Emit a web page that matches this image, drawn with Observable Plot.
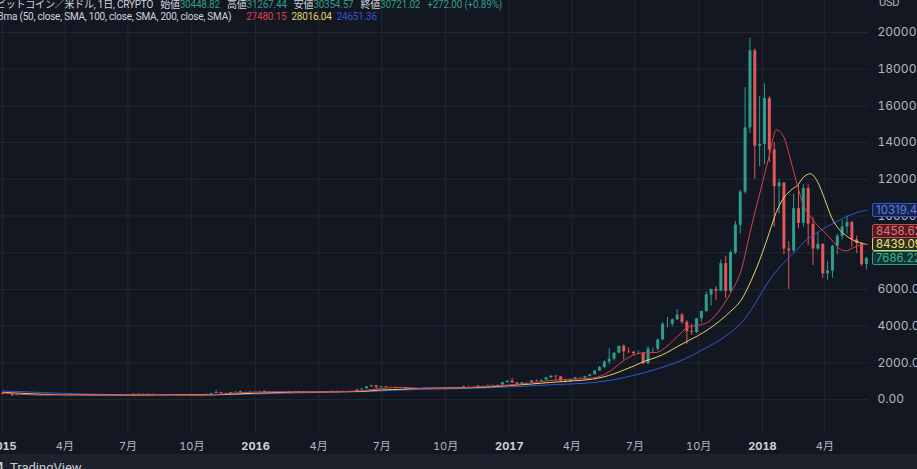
<!DOCTYPE html>
<html><head><meta charset="utf-8">
<script src="https://cdn.jsdelivr.net/npm/d3@7"></script>
<script src="https://cdn.jsdelivr.net/npm/@observablehq/plot@0.6"></script>
<style>
html,body{margin:0;padding:0;background:#131722;}
#wrap{position:relative;width:917px;height:469px;overflow:hidden;background:#131722;font-family:Inter,"Noto Sans CJK JP",sans-serif;}
#chart{position:absolute;left:0;top:0;}
.hd{position:absolute;white-space:nowrap;font-family:Roboto,"Noto Sans CJK JP",sans-serif;font-size:10px;line-height:12px;letter-spacing:-0.22px;color:#d1d4dc;}
.hd span{display:inline-block;}
.box{position:absolute;left:872px;width:60px;height:12px;border:1px solid;border-radius:2px;font-size:11.5px;line-height:12px;padding-left:3px;box-sizing:content-box;}
#foot{position:absolute;left:0;top:454px;width:917px;height:15px;background:#1d212c;}
</style></head><body><div id="wrap"><div id="chart"></div></div>
<script>
// ---- data (weekly candles) ----
const firstOpen = 320;
const closes = [
 274,270,208,255,226,228,258,237,260,276,284,260,252,256,236,224,225,240,241,234,237,225,225,233,244,251,269,294,276,293,281,262,258,226,229,239,230,231,233,240,247,268,285,327,380,332,324,378,390,433,436,423,430,
 448,382,404,376,373,400,438,434,410,414,411,416,419,423,431,450,446,458,454,443,527,583,690,750,660,700,660,665,655,655,587,570,581,574,606,608,610,602,612,617,640,657,700,703,702,740,735,766,778,790,920,998,
 905,830,920,920,1020,1000,1055,1175,1270,1230,1000,965,1080,1180,1170,1250,1345,1550,1740,2050,2200,2520,2900,2600,2580,2500,2520,1950,2750,2750,3250,4100,4100,4350,4600,4200,3700,3650,4400,4800,5700,6000,5900,7400,5900,8000,9500,11300,14800,19000,13800,13900,
 16400,13600,11600,11800,8200,8100,10400,9600,11500,9550,8200,8450,6850,7000,8350,8900,9400,9650,8700,8500,7350,7686.22
];
const highs = [
 320,300,270,310,275,245,265,260,262,300,300,290,270,262,262,238,237,240,247,245,242,240,231,237,254,254,273,300,298,297,297,285,271,262,235,242,244,235,240,241,248,272,287,335,500,390,338,380,420,465,465,465,440,
 460,452,425,405,390,400,443,444,438,418,418,420,420,424,432,452,468,462,460,458,535,590,700,780,760,710,700,680,680,660,660,600,585,585,610,630,612,612,616,620,642,660,720,740,725,750,750,780,780,792,935,1000,
 1150,910,925,925,1040,1070,1060,1200,1290,1300,1260,1050,1090,1210,1200,1260,1350,1570,1800,2100,2760,2560,2900,2980,2800,2600,2650,2550,2900,2800,3300,4200,4480,4380,4900,4700,4300,4100,4400,4800,5850,6000,6150,7600,7800,8100,9700,11400,17000,19700,19100,16500,
 17200,16500,14000,12000,11800,8600,11200,11700,11700,11700,9900,9100,8500,7500,8400,9000,9750,9990,9700,8900,8550,7750
];
const lows = [
 270,265,170,205,215,212,218,230,233,255,265,250,235,240,233,216,219,221,232,232,231,224,221,222,232,241,248,263,272,272,280,258,257,200,198,224,228,225,229,231,235,246,264,281,320,300,315,318,350,385,430,420,415,
 428,360,375,370,365,370,398,415,388,406,408,406,412,417,419,428,440,440,447,436,440,520,570,670,550,620,630,650,650,640,480,570,565,565,570,600,600,593,600,604,612,628,650,685,700,695,726,730,750,770,788,890,
 880,760,820,880,915,950,990,1050,1170,1000,950,900,950,1070,1140,1160,1240,1340,1540,1700,1900,2100,2500,2140,2500,2370,2480,1900,1900,2500,2650,3200,3900,3950,4300,4100,3000,3500,3600,4200,4750,5100,5400,5900,5500,5850,7900,9000,11200,14500,12000,12700,
 12800,12900,9400,10100,7900,6000,8000,9300,9400,8400,7300,8100,6600,6500,6600,7900,8700,9000,8300,7950,7250,7050
];

// moving averages
const smaDates = [
 "2015-01-01","2015-02-01","2015-03-01","2015-04-01","2015-05-01","2015-06-01","2015-07-01","2015-08-01","2015-09-01","2015-10-01","2015-11-01","2015-12-01",
 "2016-01-01","2016-02-01","2016-03-01","2016-04-01","2016-05-01","2016-06-01","2016-07-01","2016-08-01","2016-09-01","2016-10-01","2016-11-01","2016-12-01",
 "2017-01-01","2017-02-01","2017-03-01","2017-04-01","2017-05-01","2017-05-16","2017-06-01","2017-06-16","2017-07-01","2017-07-16","2017-08-01","2017-08-16","2017-09-01","2017-09-16","2017-10-01","2017-10-16","2017-11-01","2017-11-16","2017-12-01","2017-12-16",
 "2018-01-01","2018-01-11","2018-01-21","2018-02-01","2018-02-11","2018-02-21","2018-03-01","2018-03-11","2018-03-21","2018-04-01","2018-04-11","2018-04-21","2018-05-01","2018-05-11","2018-05-21","2018-06-01"
];
const sma50 = [
 360,275,237,262,240,236,240,275,255,236,262,350,
 405,420,405,413,428,470,610,660,590,608,650,718,
 790,900,1040,1110,1170,1330,1700,2150,2450,2550,2560,2900,3450,3950,4050,4250,4900,5800,7000,9400,
 11800,13300,14700,14300,13000,11600,10600,10000,9500,9100,8700,8250,8100,8250,8400,8458.62
];
const sma100 = [
 390,330,285,255,250,240,238,250,258,252,258,300,
 345,380,405,410,420,440,520,560,615,625,640,680,
 760,840,930,1010,1110,1220,1400,1620,1850,2100,2300,2550,2900,3200,3500,3850,4300,4800,5400,6500,
 8000,9100,10200,11000,11400,11700,12100,12300,11900,10900,9900,9300,8950,8700,8550,8439.09
];
const sma200 = [
 460,420,380,335,300,275,258,250,246,248,252,270,
 300,330,358,385,408,425,468,520,548,573,600,640,
 690,740,800,850,920,990,1080,1200,1330,1480,1650,1830,2050,2300,2600,2900,3250,3650,4150,4900,
 5900,6500,7000,7450,7850,8200,8550,8850,9100,9350,9550,9750,9950,10100,10230,10319.4
];

const yTicks = [0,2000,4000,6000,8000,10000,12000,14000,16000,18000,20000];
const yearTicks = ["2015-01-01","2016-01-01","2017-01-01","2018-01-01"];
const monthTicks = ["2015-04-01","2015-07-01","2015-10-01","2016-04-01","2016-07-01","2016-10-01","2017-04-01","2017-07-01","2017-10-01","2018-04-01"];

const header1 = "ビットコイン／米ドル, 1日, CRYPTO";
const ohlcLabels = ["始値","高値","安値","終値"];
const ohlcValues = ["30448.82","31267.44","30354.57","30721.02"];
const changeText = "+272.00 (+0.89%)";
const header2 = "3ma (50, close, SMA, 100, close, SMA, 200, close, SMA)";
const maHeaderValues = ["27480.15","28016.04","24651.36"];

// ---- colours ----
const UP = "#2b9e8c", DOWN = "#e2585a";
const C50 = "#d8414c", C100 = "#e4d468", C200 = "#3454cf";
const VAL = "#2f9c86";

// ---- build ----
const weeks = d3.utcThursday.range(new Date(Date.UTC(2015,0,1)), new Date(Date.UTC(2018,5,1)));
const candles = weeks.map((date,i) => {
  const open = i ? closes[i-1] : firstOpen, close = closes[i];
  return {date, open, close, high: Math.max(highs[i], open, close), low: Math.min(lows[i], open, close)};
});
const toSeries = arr => smaDates.map((d,i) => ({date: new Date(d), v: arr[i]}));
const col = d => d.close >= d.open ? UP : DOWN;
const toDate = s => new Date(s);

const plot = Plot.plot({
  width: 917, height: 454,
  marginTop: 0, marginBottom: 21, marginLeft: 0, marginRight: 49,
  style: {background: "transparent", color: "#b2b5be", fontFamily: "Inter, 'Noto Sans CJK JP', sans-serif", fontSize: "11px"},
  x: {type: "utc", domain: [new Date(Date.UTC(2014,11,29,3)), new Date(Date.UTC(2018,5,3))]},
  y: {domain: [-1853, 21744]},
  marks: [
    Plot.gridY(yTicks, {stroke: "#232734", strokeOpacity: 1}),
    Plot.gridX([...yearTicks, ...monthTicks].map(toDate), {stroke: "#232734", strokeOpacity: 1}),
    Plot.ruleX(candles, {x: "date", y1: "low", y2: "high", stroke: col, strokeWidth: 1}),
    Plot.ruleX(candles, {x: "date", y1: "open", y2: "close", stroke: col, strokeWidth: 3}),
    Plot.line(toSeries(sma200), {x: "date", y: "v", stroke: C200, strokeWidth: 1, curve: "monotone-x"}),
    Plot.line(toSeries(sma100), {x: "date", y: "v", stroke: C100, strokeWidth: 1, curve: "monotone-x"}),
    Plot.line(toSeries(sma50), {x: "date", y: "v", stroke: C50, strokeWidth: 1, curve: "monotone-x"}),
    Plot.axisY(yTicks, {anchor: "right", tickSize: 0, tickPadding: 9, textAnchor: "start", label: null, tickFormat: d => d.toFixed(2), fill: "#b2b5be", fontSize: 12}),
    Plot.axisX(monthTicks.map(toDate), {anchor: "bottom", tickSize: 0, tickPadding: 9, label: null, tickFormat: d => (d.getUTCMonth()+1) + "月", fill: "#b2b5be", fontSize: 11}),
    Plot.axisX(yearTicks.map(toDate), {anchor: "bottom", tickSize: 0, tickPadding: 9, label: null, tickFormat: d => String(d.getUTCFullYear()), fill: "#d1d4dc", fontWeight: "bold", fontSize: 11})
  ]
});
document.getElementById("chart").appendChild(plot);

const wrap = document.getElementById("wrap");
function addLine(x, y) {
  const s = document.createElement("div");
  s.className = "hd"; s.style.left = x + "px"; s.style.top = y + "px";
  wrap.appendChild(s);
  return s;
}
function seg(parent, txt, color, gap) {
  const sp = document.createElement("span");
  sp.textContent = txt;
  if (color) sp.style.color = color;
  if (gap) sp.style.marginLeft = gap + "px";
  parent.appendChild(sp);
  return sp;
}
// header line 1 (flowing text)
const l1 = addLine(-4, -1);
seg(l1, header1);
ohlcLabels.forEach((l,i) => { seg(l1, l, null, 7); seg(l1, ohlcValues[i], VAL); });
seg(l1, changeText, VAL, 7);
// header line 2
const l2 = addLine(-2, 11);
seg(l2, header2);
const maC = [C50, C100, C200];
maHeaderValues.forEach((v,i) => seg(l2, v, maC[i], i ? 5 : 15));
// USD
const usd = addLine(879, -3); seg(usd, "USD", "#b2b5be"); usd.style.fontSize = "11px";

// last-value boxes, placed through the y scale
const yS = plot.scale("y");
const lastItems = [
  {v: closes[closes.length-1], c: UP, bg: "#12332f", tc: "#36b39d"},
  {v: sma100[sma100.length-1], c: C100, bg: "#2f2e1c", tc: "#efe38a"},
  {v: sma50[sma50.length-1], c: C50, bg: "#4a1f26", tc: "#ef7076"},
  {v: sma200[sma200.length-1], c: C200, bg: "#17224a", tc: "#5d7fe6"}
].sort((a,b) => a.v - b.v);
let prevY = Infinity;
lastItems.forEach(it => {
  let y = yS.apply(it.v);
  if (y > prevY - 13) y = prevY - 13;
  prevY = y;
  const b = document.createElement("div");
  b.className = "box"; b.textContent = it.v.toFixed(2);
  b.style.top = (y - 7) + "px"; b.style.borderColor = it.c; b.style.background = it.bg; b.style.color = it.tc;
  wrap.appendChild(b);
});

// footer band
const foot = document.createElement("div"); foot.id = "foot"; wrap.appendChild(foot);
const logo = document.createElement("div");
Object.assign(logo.style, {position: "absolute", left: "-3px", top: "462px", width: "9px", height: "9px", background: "#c9ccd4", clipPath: "polygon(0 0,60% 0,60% 100%,40% 100%,40% 30%,0 30%)"});
wrap.appendChild(logo);
const tv = addLine(10, 460); seg(tv, "TradingView", "#c9ccd4");
tv.style.fontSize = "13px"; tv.style.lineHeight = "15px"; tv.style.letterSpacing = "0";
</script></body></html>
